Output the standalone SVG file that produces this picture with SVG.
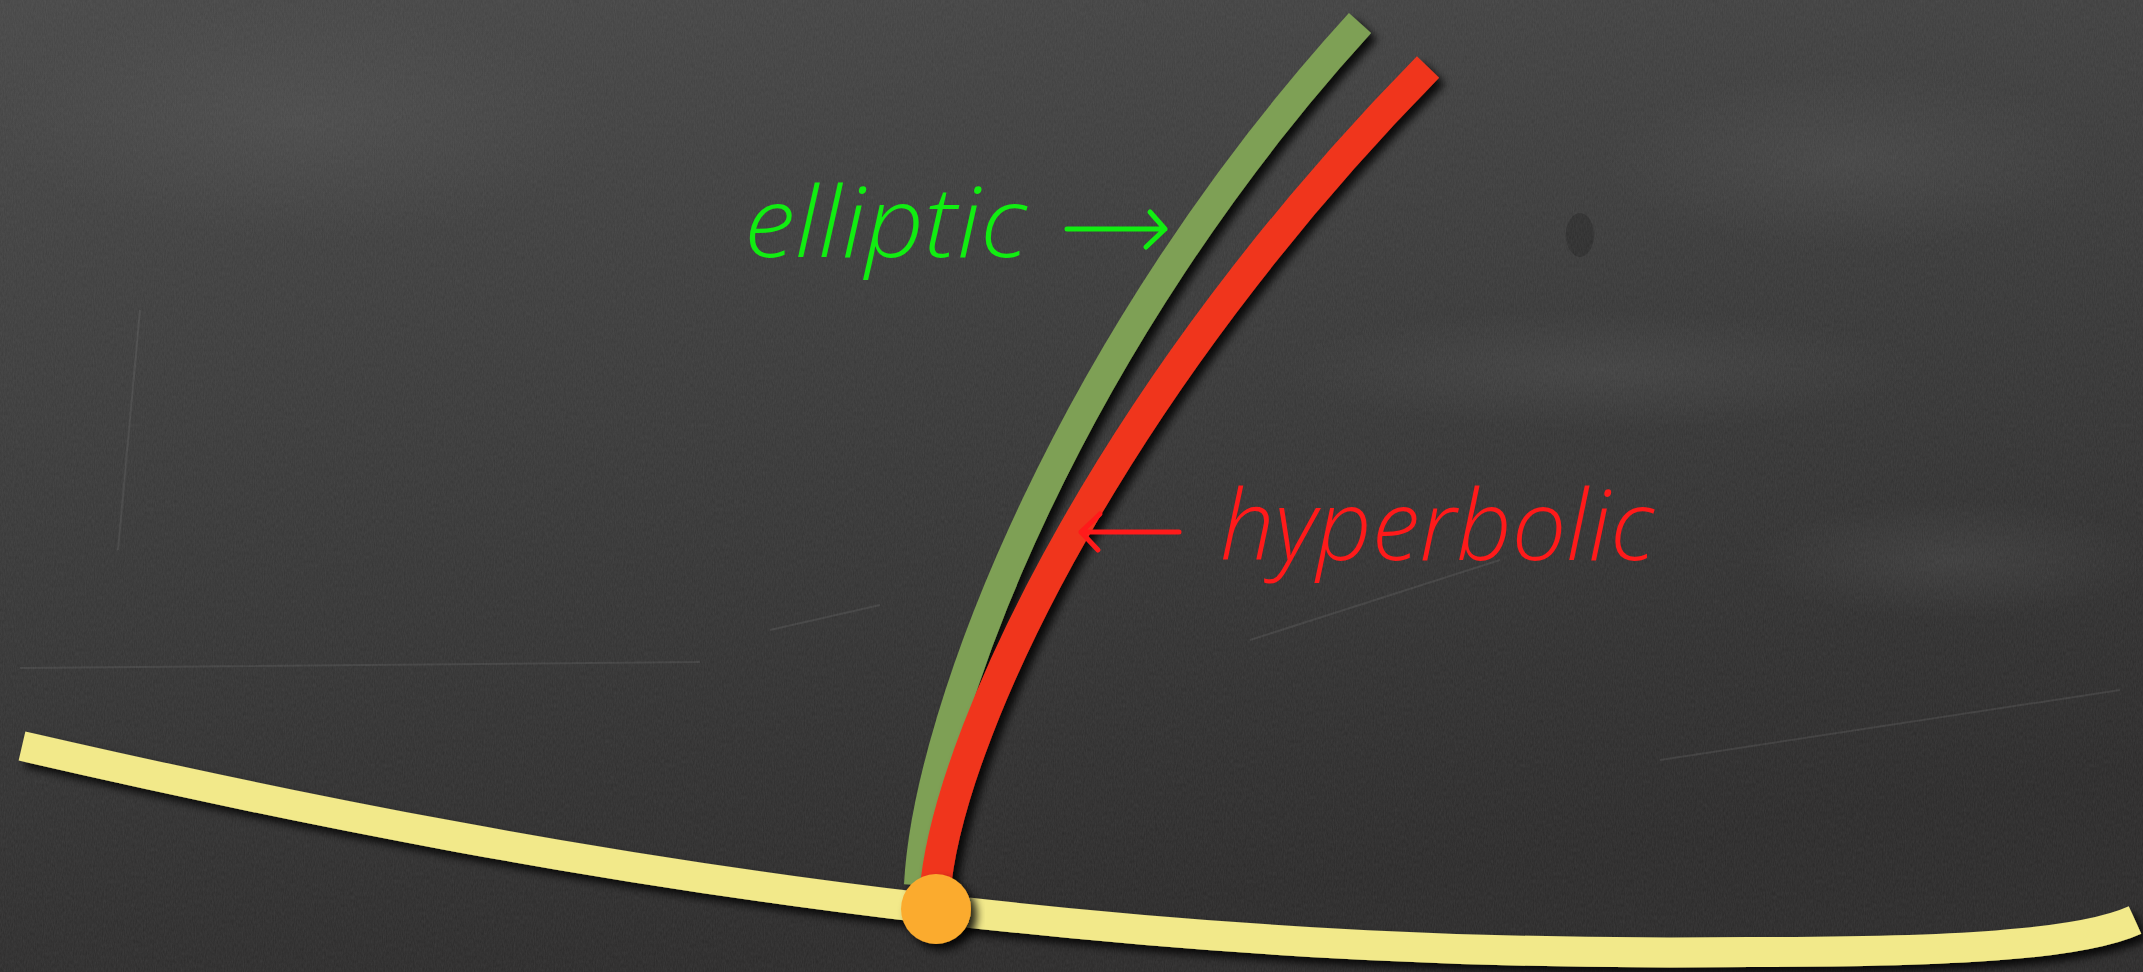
<svg xmlns="http://www.w3.org/2000/svg" width="2143" height="972" viewBox="0 0 2143 972">
<defs>
<linearGradient id="bg" x1="0" y1="0" x2="0.3" y2="1">
<stop offset="0" stop-color="#464646"/>
<stop offset="0.55" stop-color="#363636"/>
<stop offset="1" stop-color="#2a2929"/>
</linearGradient>
<radialGradient id="smudge" cx="0.5" cy="0.5" r="0.5">
<stop offset="0" stop-color="#6a6a6a" stop-opacity="0.2"/>
<stop offset="1" stop-color="#6a6a6a" stop-opacity="0"/>
</radialGradient>
<filter id="noise" x="0" y="0" width="100%" height="100%">
<feTurbulence type="fractalNoise" baseFrequency="0.9 0.25" numOctaves="3" seed="4" result="n"/>
<feColorMatrix type="matrix" values="0 0 0 0 0.5  0 0 0 0 0.5  0 0 0 0 0.5  0 0 0 0.12 0"/>
</filter>
<filter id="shadow" x="-20%" y="-20%" width="140%" height="140%">
<feDropShadow dx="6" dy="6" stdDeviation="4" flood-color="#000" flood-opacity="0.85"/>
</filter>
<style>
.curve{fill:none;stroke-linecap:butt;filter:url(#shadow)}
.lbl{font-family:"Open Sans","DejaVu Sans",sans-serif;font-style:italic;font-weight:300;font-size:98px}
.arr{fill:none;stroke-width:5;stroke-linecap:round;stroke-linejoin:round}
.scratch{fill:none;stroke:#8a8a8a;stroke-width:2;stroke-opacity:0.18}
</style>
</defs>
<g id="background">
<rect width="2143" height="972" fill="url(#bg)"/>
<ellipse cx="1850" cy="160" rx="250" ry="90" fill="url(#smudge)"/>
<ellipse cx="1600" cy="370" rx="320" ry="60" fill="url(#smudge)"/>
<ellipse cx="1950" cy="560" rx="200" ry="60" fill="url(#smudge)"/>
<ellipse cx="300" cy="120" rx="300" ry="120" fill="url(#smudge)"/>
<ellipse cx="1580" cy="235" rx="14" ry="22" fill="#222" opacity="0.5"/>
<path class="scratch" d="M140,310 L118,550 M20,668 L700,662 M770,630 L880,605 M1660,760 L2120,690 M1250,640 L1500,560"/>
<rect width="2143" height="972" filter="url(#noise)"/>
</g>
<g id="yellow-curve">
<path class="curve" d="M22,746 C300,810 600,870 936,909 C1250,945 1500,955 1750,952 C1950,952 2080,945 2135,920" stroke="#f2e98a" stroke-width="30"/>
</g>
<g id="elliptic-curve">
<path class="curve" d="M919,885 C928,710 1075,335 1360,23" stroke="#7ea054" stroke-width="30"/>
</g>
<g id="hyperbolic-curve">
<path class="curve" d="M936,882 C955,720 1120,380 1428,67" stroke="#f0361f" stroke-width="31"/>
</g>
<g id="point">
<circle cx="936" cy="909" r="35" fill="#fbab2e" filter="url(#shadow)"/>
</g>
<g id="connectors">
<path class="arr" stroke="#11ee11" d="M1067,229 L1165,229 M1150,212 L1165,229 L1146,247"/>
<path class="arr" stroke="#ff1a1a" d="M1179,532 L1081,532 M1100,514 L1081,532 L1098,550"/>
</g>
<g id="label-elliptic">
<text class="lbl" x="744" y="257" fill="#11ee11" textLength="283" lengthAdjust="spacingAndGlyphs">elliptic</text>
</g>
<g id="label-hyperbolic">
<text class="lbl" x="1220" y="560" fill="#ff1a1a" textLength="434" lengthAdjust="spacingAndGlyphs">hyperbolic</text>
</g>
</svg>
